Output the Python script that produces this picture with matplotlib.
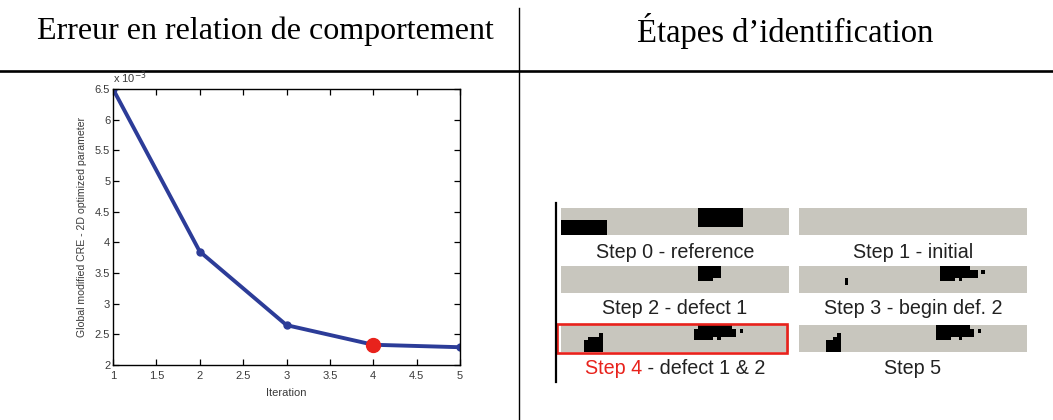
import numpy as np
import matplotlib
matplotlib.use("Agg")
import matplotlib.pyplot as plt
from matplotlib.colors import ListedColormap

# --- data ---
iterations = [1, 2, 3, 4, 5]
cre_values = [6.5, 3.85, 2.65, 2.33, 2.29]   # x 10^-3
best_iter = 4
headers = ["Erreur en relation de comportement", "Étapes d\u2019identification"]
step_labels = ["Step 0 - reference", "Step 1 - initial", "Step 2 - defect 1",
               "Step 3 - begin def. 2", "Step 4 - defect 1 & 2", "Step 5"]

# defect cells on a 7 x 60 grid per step: (row, first col, last col)
defects = {
    0: [(r, 0, 11) for r in range(3, 7)] + [(r, 36, 47) for r in range(0, 5)],
    1: [],
    2: [(0, 36, 41), (1, 36, 41), (2, 36, 41), (3, 36, 39)],
    3: [(3, 12, 12), (4, 12, 12),
        (0, 37, 44), (1, 37, 46), (1, 48, 48), (2, 37, 46), (3, 37, 40), (3, 42, 42)],
    4: [(4, 6, 6), (5, 6, 6), (6, 6, 6)] + [(r, 7, 9) for r in range(3, 7)]
       + [(r, 10, 10) for r in range(2, 7)]
       + [(0, 36, 44), (1, 35, 45), (1, 47, 47), (2, 35, 45), (3, 35, 39), (3, 41, 41)],
    5: [(r, 7, 8) for r in range(4, 7)] + [(r, 9, 9) for r in range(3, 7)]
       + [(r, 10, 10) for r in range(2, 7)]
       + [(0, 36, 44), (1, 36, 45), (1, 47, 47), (2, 36, 45), (3, 36, 39), (3, 42, 42)],
}
highlight_step = 4

W, H = 1053, 420
fig = plt.figure(figsize=(W / 100, H / 100), dpi=100)
bg = fig.add_axes([0, 0, 1, 1])
bg.set_xlim(0, W)
bg.set_ylim(H, 0)
bg.axis("off")

# table frame
bg.plot([0, W], [71, 71], color="black", lw=1.9)
bg.plot([519, 519], [8, H], color="black", lw=1.0)
bg.text(265, 31, headers[0], family="Liberation Serif", fontsize=23, ha="center", va="center")
bg.text(785, 31, headers[1], family="Liberation Serif", fontsize=23.5, ha="center", va="center")

# left: convergence curve
sans = "Liberation Sans"
txt_c = "#3a3a3a"
ax = fig.add_axes([113 / W, 1 - 365 / H, 347 / W, 276 / H])
ax.plot(iterations, cre_values, color="#2c3c98", lw=2.8, marker="o", ms=5)
bi = iterations.index(best_iter)
ax.plot(iterations[bi], cre_values[bi], "o", color="#e8221c", ms=10, zorder=5)
ax.set_xlim(1, 5)
ax.set_ylim(2, 6.5)
ax.set_xticks(np.arange(1, 5.01, 0.5))
ax.set_yticks(np.arange(2, 6.51, 0.5))
ax.set_xticklabels(["1", "1.5", "2", "2.5", "3", "3.5", "4", "4.5", "5"], family=sans)
ax.set_yticklabels(["2", "2.5", "3", "3.5", "4", "4.5", "5", "5.5", "6", "6.5"], family=sans)
ax.tick_params(direction="in", length=4, width=0.9, top=True, right=True,
               labelsize=8, labelcolor=txt_c, pad=2)
ax.tick_params(axis="x", pad=4)
for s in ax.spines.values():
    s.set_linewidth(1.0)
ax.set_xlabel("Iteration", fontsize=8, color=txt_c, family=sans, labelpad=5)
ax.set_ylabel("Global modified CRE - 2D optimized parameter", fontsize=7.6,
              color=txt_c, family=sans)
ax.yaxis.set_label_coords(-0.075, 0.5)
ax.text(0.0, 1.012, r"x 10$^{-3}$", transform=ax.transAxes, fontsize=8, family=sans,
        color=txt_c, ha="left", va="bottom")

# right: identification steps
gray = "#c8c6be"
cmap = ListedColormap([gray, "black"])
cols_x = [(561, 789), (799, 1027)]
rows_y = [(208, 235), (266, 293), (325, 352)]
label_y = [252, 309, 369]
fs = 14.2

bg.plot([556, 556], [203, 382], color="black", lw=1.6)

renderer = fig.canvas.get_renderer()
for k, lab in enumerate(step_labels):
    c, r = k % 2, k // 2
    x0, x1 = cols_x[c]
    y0, y1 = rows_y[r]
    grid = np.zeros((7, 60))
    for row, a, b in defects[k]:
        grid[row, a:b + 1] = 1
    bg.imshow(grid, cmap=cmap, vmin=0, vmax=1, extent=(x0, x1, y1, y0),
              aspect="auto", interpolation="nearest")
    xc = (x0 + x1) / 2
    if k == highlight_step:
        head, tail = lab.split(" - ", 1)
        tail = " - " + tail
        t1 = bg.text(0, label_y[r], head, fontsize=fs, family=sans,
                     color="#e8221c", ha="left", va="center")
        t2 = bg.text(0, label_y[r], tail, fontsize=fs, family=sans,
                     color="#222222", ha="left", va="center")
        w1 = t1.get_window_extent(renderer).width
        w2 = t2.get_window_extent(renderer).width
        start = xc - (w1 + w2) / 2
        t1.set_x(start)
        t2.set_x(start + w1)
        bg.add_patch(plt.Rectangle((557, 324), 230, 29, fill=False,
                                   edgecolor="#e8221c", lw=1.9))
    else:
        bg.text(xc, label_y[r], lab, fontsize=fs, family=sans,
                color="#222222", ha="center", va="center")

bg.set_xlim(0, W)
bg.set_ylim(H, 0)
fig.savefig("out.png", dpi=100)
